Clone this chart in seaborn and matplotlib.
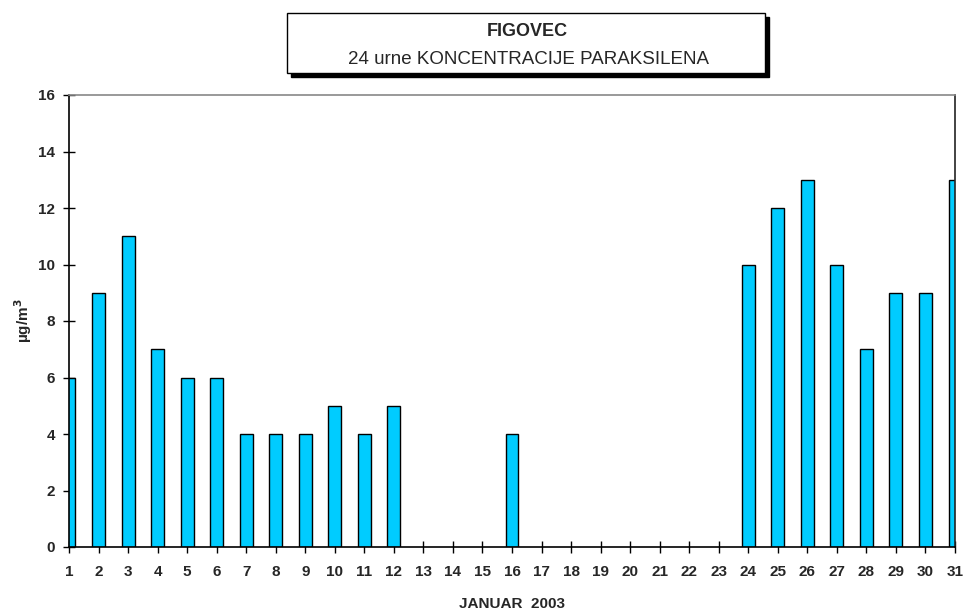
import numpy as np
import pandas as pd
import matplotlib
matplotlib.use("Agg")
import matplotlib.pyplot as plt
from matplotlib.patches import Rectangle
import seaborn as sns

days = list(range(1, 32))
values = [6, 9, 11, 7, 6, 6, 4, 4, 4, 5, 4, 5, np.nan, np.nan, np.nan, 4,
          np.nan, np.nan, np.nan, np.nan, np.nan, np.nan, np.nan,
          10, 12, 13, 10, 7, 9, 9, 13]
day_labels = [str(d) for d in days]
title1 = "FIGOVEC"
title2 = "24 urne KONCENTRACIJE PARAKSILENA"
xlabel = "JANUAR  2003"
ylabel = "µg/m$^3$"

sns.set_style("white")
plt.rcParams['font.family'] = ['Liberation Sans', 'DejaVu Sans']
plt.rcParams['mathtext.default'] = 'bf'

df = pd.DataFrame({"day": day_labels, "value": values})

fig = plt.figure(figsize=(9.66, 6.14), dpi=100)
ax = fig.add_axes([69/966, (614-547)/614, (955-69)/966, (547-95)/614])

sns.barplot(data=df, x="day", y="value", order=day_labels, color="#00CCFF",
            saturation=1, width=0.44, edgecolor="black", linewidth=1.0,
            errorbar=None, ax=ax)

ax.set_xlim(0, 30)
ax.set_ylim(0, 16)
ax.set_yticks(range(0, 17, 2))
ax.set_xticks(range(0, 31))
ax.set_xticklabels(day_labels)
for lab in ax.get_xticklabels() + ax.get_yticklabels():
    lab.set_fontweight("bold")
    lab.set_fontsize(11)
ax.tick_params(axis='both', direction='inout', length=8.5, width=1, color='black',
               bottom=True, left=True)
ax.tick_params(axis='x', pad=9)
ax.tick_params(axis='y', pad=6)

ax.set_xlabel(xlabel, fontweight='bold', fontsize=11, labelpad=13)
ax.set_ylabel(ylabel, fontweight='bold', fontsize=11, labelpad=3)

for side in ['left', 'bottom']:
    ax.spines[side].set_color('black')
    ax.spines[side].set_linewidth(1.2)
ax.spines['top'].set_color('#888888')
ax.spines['top'].set_linewidth(1.2)
ax.spines['right'].set_color('#222222')
ax.spines['right'].set_linewidth(1.2)

# Title box with shadow
bx0, bw = 287/966, 478/966
by0, bh = (614-73)/614, 60/614
shadow = Rectangle((bx0 + 4/966, by0 - 4/614), bw, bh, transform=fig.transFigure,
                   facecolor='black', edgecolor='black', zorder=1)
box = Rectangle((bx0, by0), bw, bh, transform=fig.transFigure,
                facecolor='white', edgecolor='black', linewidth=1.0, zorder=2)
fig.patches.extend([shadow, box])
fig.text(527/966, 1 - 36/614, title1, ha='center', va='baseline',
         fontweight='bold', fontsize=13, zorder=3)
fig.text(528/966, 1 - 64/614, title2, ha='center', va='baseline',
         fontsize=13.5, zorder=3)

fig.savefig("out.png", dpi=100)
